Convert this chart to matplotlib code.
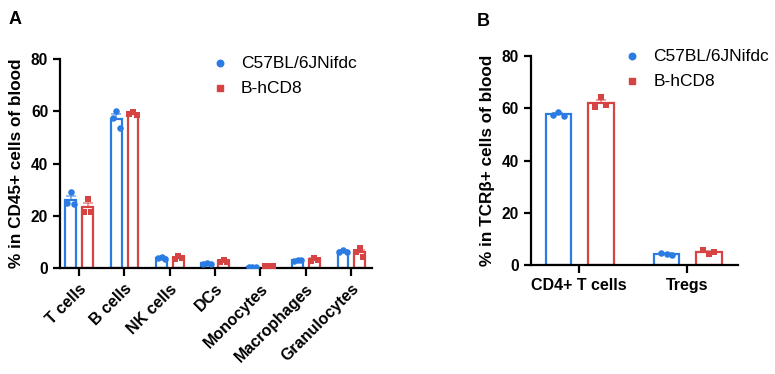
import numpy as np
import matplotlib
matplotlib.use("Agg")
import matplotlib.pyplot as plt

plt.rcParams['font.family'] = ['Liberation Sans', 'DejaVu Sans']

# panel A data: % in CD45+ cells of blood (3 mice per group)
cells_a = ["T cells", "B cells", "NK cells", "DCs", "Monocytes", "Macrophages", "Granulocytes"]
wt_a = [[29.2, 24.8, 24.6], [60.0, 57.4, 53.6], [4.3, 3.9, 3.5], [1.9, 1.7, 1.6],
        [0.5, 0.5, 0.5], [3.0, 2.8, 3.1], [7.0, 6.3, 6.2]]
hcd8_a = [[26.5, 21.6, 21.4], [59.6, 59.0, 58.6], [4.7, 3.4, 3.7], [2.9, 2.3, 2.3],
          [0.9, 0.7, 0.8], [4.0, 2.6, 3.2], [7.6, 6.1, 4.2]]

# panel B data: % in TCRb+ cells of blood
cells_b = ["CD4+ T cells", "Tregs"]
wt_b = [[58.5, 57.4, 57.1], [4.3, 4.5, 4.0]]
hcd8_b = [[64.4, 60.4, 61.2], [4.3, 5.6, 5.0]]

names = ["C57BL/6JNifdc", "B-hCD8"]
blue = "#2a7be2"
red = "#d64343"


def draw(ax, cats, groups, off, width, jitter, ylabel):
    x = np.arange(len(cats))
    handles = []
    for vals, dx, col, mk, name in zip(groups, off, [blue, red], ["o", "s"], names):
        vals = np.array(vals)
        mean = vals.mean(axis=1)
        sem = vals.std(axis=1, ddof=1) / np.sqrt(vals.shape[1])
        ax.bar(x + dx, mean, width, facecolor="white", edgecolor=col, linewidth=1.6, zorder=2)
        ax.errorbar(x + dx, mean, yerr=[np.zeros_like(sem), sem], fmt="none", ecolor=col,
                    alpha=0.6, capsize=3.5, elinewidth=1.2, capthick=1.2, zorder=3)
        jit = np.array([0.0, -jitter, jitter])
        for i in range(len(cats)):
            ax.scatter(x[i] + dx + jit, vals[i], s=22, marker=mk, color=col, zorder=4, linewidths=0)
        h = ax.scatter([], [], s=22, marker=mk, color=col, label=name)
        handles.append(h)
    ax.set_ylim(0, 80)
    ax.set_yticks([0, 20, 40, 60, 80])
    ax.set_xticks(x)
    ax.set_ylabel(ylabel, fontsize=12.3, fontweight="bold", labelpad=5)
    for s in ["top", "right"]:
        ax.spines[s].set_visible(False)
    for s in ["left", "bottom"]:
        ax.spines[s].set_linewidth(1.6)
    ax.tick_params(axis="y", width=1.6, length=5, labelsize=11.2)
    ax.tick_params(axis="x", width=1.6, length=6, labelsize=11.5)
    for t in ax.get_yticklabels():
        t.set_fontweight("bold")
    return handles


fig = plt.figure(figsize=(7.75, 3.74), dpi=100)

ax1 = fig.add_axes([0.0774, 0.2834, 0.4026, 0.5588])
h1 = draw(ax1, cells_a, [wt_a, hcd8_a], [-0.18, 0.19], 0.24, 0.08, "% in CD45+ cells of blood")
ax1.set_xlim(-0.42, 6.46)
ax1.set_xticklabels(cells_a, rotation=45, ha="right", rotation_mode="anchor", fontweight="bold")
ax1.legend(handles=h1, loc="upper left", bbox_to_anchor=(0.43, 1.09), frameon=False,
           fontsize=12.5, handletextpad=0.6, labelspacing=0.55, handlelength=1.2)

ax2 = fig.add_axes([0.6848, 0.2914, 0.2675, 0.5588])
h2 = draw(ax2, cells_b, [wt_b, hcd8_b], [-0.19, 0.2], 0.24, 0.05, "% in TCR\u03b2+ cells of blood")
ax2.set_xlim(-0.447, 1.472)
ax2.set_xticklabels(cells_b, fontweight="bold")
ax2.legend(handles=h2, loc="upper left", bbox_to_anchor=(0.365, 1.11), frameon=False,
           fontsize=12.5, handletextpad=0.6, labelspacing=0.55, handlelength=1.2)

fig.text(0.011, 0.935, "A", fontsize=13, fontweight="bold")
fig.text(0.615, 0.93, "B", fontsize=13, fontweight="bold")

fig.savefig("out.png", dpi=100)
